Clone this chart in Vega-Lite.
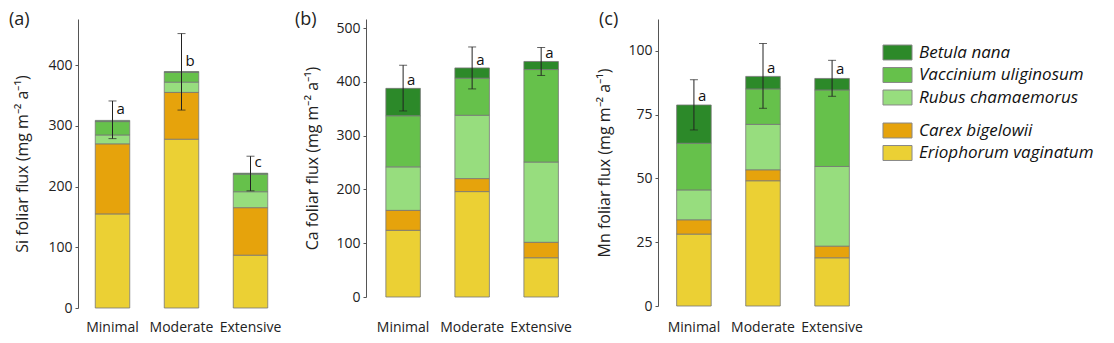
{
  "$schema": "https://vega.github.io/schema/vega-lite/v6.json",
  "padding": {"left": 8, "top": 11, "right": 0, "bottom": 0},
  "background": "white",
  "config": {
    "font": "Open Sans",
    "view": {"stroke": null},
    "axis": {"grid": false, "labelFontSize": 14, "labelColor": "#222", "titleFontSize": 16, "titleFontWeight": "normal", "titleColor": "#222", "domainColor": "#555", "tickColor": "#555", "labelFont": "Open Sans", "titleFont": "Open Sans"},
    "axisY": {"tickSize": 3, "labelPadding": 3, "titlePadding": 15},
    "axisX": {"domain": false, "ticks": false, "labelAngle": 0, "title": null},
    "legend": {"orient": "right", "labelFont": "Open Sans", "labelFontStyle": "italic", "labelFontSize": 17, "labelColor": "#111", "labelLimit": 400, "symbolType": "M-1.32,-0.68H1.32V0.68H-1.32Z", "symbolSize": 484, "symbolStrokeColor": "#888", "symbolStrokeWidth": 1, "symbolOpacity": 1, "rowPadding": 1.5, "labelOffset": 10, "offset": 18},
    "title": {"fontSize": 18, "fontWeight": "normal", "color": "#222", "font": "Open Sans", "anchor": "start", "frame": "bounds"}
  },
  "datasets": {
    "bars": [
      {"element": "Si", "treatment": "Minimal", "species": "Eriophorum vaginatum", "group": "sedge", "rank": 1, "value": 155},
      {"element": "Si", "treatment": "Minimal", "species": "Carex bigelowii", "group": "sedge", "rank": 2, "value": 115},
      {"element": "Si", "treatment": "Minimal", "species": "Rubus chamaemorus", "group": "shrub", "rank": 3, "value": 15},
      {"element": "Si", "treatment": "Minimal", "species": "Vaccinium uliginosum", "group": "shrub", "rank": 4, "value": 22},
      {"element": "Si", "treatment": "Minimal", "species": "Betula nana", "group": "shrub", "rank": 5, "value": 2},
      {"element": "Si", "treatment": "Moderate", "species": "Eriophorum vaginatum", "group": "sedge", "rank": 1, "value": 278},
      {"element": "Si", "treatment": "Moderate", "species": "Carex bigelowii", "group": "sedge", "rank": 2, "value": 77},
      {"element": "Si", "treatment": "Moderate", "species": "Rubus chamaemorus", "group": "shrub", "rank": 3, "value": 17},
      {"element": "Si", "treatment": "Moderate", "species": "Vaccinium uliginosum", "group": "shrub", "rank": 4, "value": 16},
      {"element": "Si", "treatment": "Moderate", "species": "Betula nana", "group": "shrub", "rank": 5, "value": 1.5},
      {"element": "Si", "treatment": "Extensive", "species": "Eriophorum vaginatum", "group": "sedge", "rank": 1, "value": 87},
      {"element": "Si", "treatment": "Extensive", "species": "Carex bigelowii", "group": "sedge", "rank": 2, "value": 78},
      {"element": "Si", "treatment": "Extensive", "species": "Rubus chamaemorus", "group": "shrub", "rank": 3, "value": 26.5},
      {"element": "Si", "treatment": "Extensive", "species": "Vaccinium uliginosum", "group": "shrub", "rank": 4, "value": 29},
      {"element": "Si", "treatment": "Extensive", "species": "Betula nana", "group": "shrub", "rank": 5, "value": 1.5},
      {"element": "Ca", "treatment": "Minimal", "species": "Eriophorum vaginatum", "group": "sedge", "rank": 1, "value": 124},
      {"element": "Ca", "treatment": "Minimal", "species": "Carex bigelowii", "group": "sedge", "rank": 2, "value": 37},
      {"element": "Ca", "treatment": "Minimal", "species": "Rubus chamaemorus", "group": "shrub", "rank": 3, "value": 81},
      {"element": "Ca", "treatment": "Minimal", "species": "Vaccinium uliginosum", "group": "shrub", "rank": 4, "value": 95},
      {"element": "Ca", "treatment": "Minimal", "species": "Betula nana", "group": "shrub", "rank": 5, "value": 51},
      {"element": "Ca", "treatment": "Moderate", "species": "Eriophorum vaginatum", "group": "sedge", "rank": 1, "value": 196},
      {"element": "Ca", "treatment": "Moderate", "species": "Carex bigelowii", "group": "sedge", "rank": 2, "value": 24},
      {"element": "Ca", "treatment": "Moderate", "species": "Rubus chamaemorus", "group": "shrub", "rank": 3, "value": 118},
      {"element": "Ca", "treatment": "Moderate", "species": "Vaccinium uliginosum", "group": "shrub", "rank": 4, "value": 69},
      {"element": "Ca", "treatment": "Moderate", "species": "Betula nana", "group": "shrub", "rank": 5, "value": 19},
      {"element": "Ca", "treatment": "Extensive", "species": "Eriophorum vaginatum", "group": "sedge", "rank": 1, "value": 73},
      {"element": "Ca", "treatment": "Extensive", "species": "Carex bigelowii", "group": "sedge", "rank": 2, "value": 28.5},
      {"element": "Ca", "treatment": "Extensive", "species": "Rubus chamaemorus", "group": "shrub", "rank": 3, "value": 149.5},
      {"element": "Ca", "treatment": "Extensive", "species": "Vaccinium uliginosum", "group": "shrub", "rank": 4, "value": 172},
      {"element": "Ca", "treatment": "Extensive", "species": "Betula nana", "group": "shrub", "rank": 5, "value": 15},
      {"element": "Mn", "treatment": "Minimal", "species": "Eriophorum vaginatum", "group": "sedge", "rank": 1, "value": 28.2},
      {"element": "Mn", "treatment": "Minimal", "species": "Carex bigelowii", "group": "sedge", "rank": 2, "value": 5.5},
      {"element": "Mn", "treatment": "Minimal", "species": "Rubus chamaemorus", "group": "shrub", "rank": 3, "value": 11.8},
      {"element": "Mn", "treatment": "Minimal", "species": "Vaccinium uliginosum", "group": "shrub", "rank": 4, "value": 18.3},
      {"element": "Mn", "treatment": "Minimal", "species": "Betula nana", "group": "shrub", "rank": 5, "value": 15},
      {"element": "Mn", "treatment": "Moderate", "species": "Eriophorum vaginatum", "group": "sedge", "rank": 1, "value": 49.1},
      {"element": "Mn", "treatment": "Moderate", "species": "Carex bigelowii", "group": "sedge", "rank": 2, "value": 4.2},
      {"element": "Mn", "treatment": "Moderate", "species": "Rubus chamaemorus", "group": "shrub", "rank": 3, "value": 17.9},
      {"element": "Mn", "treatment": "Moderate", "species": "Vaccinium uliginosum", "group": "shrub", "rank": 4, "value": 13.9},
      {"element": "Mn", "treatment": "Moderate", "species": "Betula nana", "group": "shrub", "rank": 5, "value": 4.9},
      {"element": "Mn", "treatment": "Extensive", "species": "Eriophorum vaginatum", "group": "sedge", "rank": 1, "value": 18.9},
      {"element": "Mn", "treatment": "Extensive", "species": "Carex bigelowii", "group": "sedge", "rank": 2, "value": 4.5},
      {"element": "Mn", "treatment": "Extensive", "species": "Rubus chamaemorus", "group": "shrub", "rank": 3, "value": 31.3},
      {"element": "Mn", "treatment": "Extensive", "species": "Vaccinium uliginosum", "group": "shrub", "rank": 4, "value": 30},
      {"element": "Mn", "treatment": "Extensive", "species": "Betula nana", "group": "shrub", "rank": 5, "value": 4.5}
    ],
    "errs": [
      {"element": "Si", "treatment": "Minimal", "lo": 279, "hi": 341, "letter": "a", "label_at": 319},
      {"element": "Si", "treatment": "Moderate", "lo": 326, "hi": 452, "letter": "b", "label_at": 398},
      {"element": "Si", "treatment": "Extensive", "lo": 193, "hi": 250, "letter": "c", "label_at": 232},
      {"element": "Ca", "treatment": "Minimal", "lo": 346, "hi": 431, "letter": "a", "label_at": 395},
      {"element": "Ca", "treatment": "Moderate", "lo": 387, "hi": 465, "letter": "a", "label_at": 432},
      {"element": "Ca", "treatment": "Extensive", "lo": 412, "hi": 464, "letter": "a", "label_at": 445},
      {"element": "Mn", "treatment": "Minimal", "lo": 69, "hi": 88.7, "letter": "a", "label_at": 80.5},
      {"element": "Mn", "treatment": "Moderate", "lo": 77.5, "hi": 102.9, "letter": "a", "label_at": 91.5},
      {"element": "Mn", "treatment": "Extensive", "lo": 82.2, "hi": 96.3, "letter": "a", "label_at": 91}
    ]
  },
  "spacing": 9,
  "resolve": {"scale": {"color": "shared", "fill": "shared"}},
  "hconcat": [
    {
      "title": {"text": "(a)", "dx": -6, "offset": -10},
      "width": 207, "height": 289,
      "layer": [
        {
          "data": {"name": "bars"},
          "transform": [{"filter": "datum.element === 'Si'"}, {"stack": "value", "groupby": ["treatment"], "sort": [{"field": "rank", "order": "ascending"}], "as": ["v0", "v1"]}, {"filter": "datum.group === 'shrub'"}],
          "mark": {"type": "bar", "stroke": "#777", "strokeWidth": 0.8},
          "encoding": {
            "x": {"field": "treatment", "type": "nominal", "sort": ["Minimal", "Moderate", "Extensive"], "scale": {"paddingInner": 0.5, "paddingOuter": 0.25}, "axis": {"labelPadding": 12}},
            "y": {"field": "v0", "type": "quantitative", "title": "Si foliar flux (mg m⁻² a⁻¹)", "scale": {"domain": [0, 476], "nice": false}, "axis": {"titlePadding": 17, "values": [0, 50, 100, 150, 200, 250, 300, 350, 400, 450], "labelExpr": "datum.value % 100 === 0 ? datum.label : ''"}},
            "y2": {"field": "v1"},
            "color": {"field": "species", "type": "nominal", "scale": {"domain": ["Betula nana", "Vaccinium uliginosum", "Rubus chamaemorus"], "range": ["#2c8929", "#66c14b", "#97dd7e"]}, "legend": {"title": " ", "titleFontSize": 10, "titlePadding": 12}}
          }
        },
        {
          "data": {"name": "bars"},
          "transform": [{"filter": "datum.element === 'Si'"}, {"stack": "value", "groupby": ["treatment"], "sort": [{"field": "rank", "order": "ascending"}], "as": ["v0", "v1"]}, {"filter": "datum.group === 'sedge'"}],
          "mark": {"type": "bar", "stroke": "#777", "strokeWidth": 0.8},
          "encoding": {
            "x": {"field": "treatment", "type": "nominal", "sort": ["Minimal", "Moderate", "Extensive"]},
            "y": {"field": "v0", "type": "quantitative", "title": "Si foliar flux (mg m⁻² a⁻¹)"},
            "y2": {"field": "v1"},
            "fill": {"field": "species", "type": "nominal", "scale": {"domain": ["Carex bigelowii", "Eriophorum vaginatum"], "range": ["#e6a30c", "#ebd034"]}, "legend": {"title": " ", "titleFontSize": 2, "titlePadding": 2}}
          }
        },
        {
          "data": {"name": "errs"},
          "transform": [{"filter": "datum.element === 'Si'"}],
          "mark": {"type": "errorbar", "ticks": {"size": 8, "color": "#222"}, "rule": {"color": "#222", "strokeWidth": 1}},
          "encoding": {
            "x": {"field": "treatment", "type": "nominal", "sort": ["Minimal", "Moderate", "Extensive"]},
            "y": {"field": "lo", "type": "quantitative", "title": "Si foliar flux (mg m⁻² a⁻¹)"},
            "y2": {"field": "hi"}
          }
        },
        {
          "data": {"name": "errs"},
          "transform": [{"filter": "datum.element === 'Si'"}],
          "mark": {"type": "text", "align": "left", "baseline": "alphabetic", "dx": 4, "fontSize": 15, "color": "#111"},
          "encoding": {
            "x": {"field": "treatment", "type": "nominal", "sort": ["Minimal", "Moderate", "Extensive"]},
            "y": {"field": "label_at", "type": "quantitative", "title": "Si foliar flux (mg m⁻² a⁻¹)"},
            "text": {"field": "letter"}
          }
        }
      ]
    },
    {
      "title": {"text": "(b)", "dx": -10, "offset": -10},
      "width": 221, "height": 278,
      "layer": [
        {
          "data": {"name": "bars"},
          "transform": [{"filter": "datum.element === 'Ca'"}, {"stack": "value", "groupby": ["treatment"], "sort": [{"field": "rank", "order": "ascending"}], "as": ["v0", "v1"]}, {"filter": "datum.group === 'shrub'"}],
          "mark": {"type": "bar", "stroke": "#777", "strokeWidth": 0.8},
          "encoding": {
            "x": {"field": "treatment", "type": "nominal", "sort": ["Minimal", "Moderate", "Extensive"], "scale": {"paddingInner": 0.5, "paddingOuter": 0.351, "align": 0.41}, "axis": {"labelPadding": 23}},
            "y": {"field": "v0", "type": "quantitative", "title": "Ca foliar flux (mg m⁻² a⁻¹)", "scale": {"domain": [0, 517], "nice": false}, "axis": {"values": [0, 50, 100, 150, 200, 250, 300, 350, 400, 450, 500], "labelExpr": "datum.value % 100 === 0 ? datum.label : ''"}},
            "y2": {"field": "v1"},
            "color": {"field": "species", "type": "nominal", "scale": {"domain": ["Betula nana", "Vaccinium uliginosum", "Rubus chamaemorus"], "range": ["#2c8929", "#66c14b", "#97dd7e"]}, "legend": {"title": " ", "titleFontSize": 10, "titlePadding": 12}}
          }
        },
        {
          "data": {"name": "bars"},
          "transform": [{"filter": "datum.element === 'Ca'"}, {"stack": "value", "groupby": ["treatment"], "sort": [{"field": "rank", "order": "ascending"}], "as": ["v0", "v1"]}, {"filter": "datum.group === 'sedge'"}],
          "mark": {"type": "bar", "stroke": "#777", "strokeWidth": 0.8},
          "encoding": {
            "x": {"field": "treatment", "type": "nominal", "sort": ["Minimal", "Moderate", "Extensive"]},
            "y": {"field": "v0", "type": "quantitative", "title": "Ca foliar flux (mg m⁻² a⁻¹)"},
            "y2": {"field": "v1"},
            "fill": {"field": "species", "type": "nominal", "scale": {"domain": ["Carex bigelowii", "Eriophorum vaginatum"], "range": ["#e6a30c", "#ebd034"]}, "legend": {"title": " ", "titleFontSize": 2, "titlePadding": 2}}
          }
        },
        {
          "data": {"name": "errs"},
          "transform": [{"filter": "datum.element === 'Ca'"}],
          "mark": {"type": "errorbar", "ticks": {"size": 8, "color": "#222"}, "rule": {"color": "#222", "strokeWidth": 1}},
          "encoding": {
            "x": {"field": "treatment", "type": "nominal", "sort": ["Minimal", "Moderate", "Extensive"]},
            "y": {"field": "lo", "type": "quantitative", "title": "Ca foliar flux (mg m⁻² a⁻¹)"},
            "y2": {"field": "hi"}
          }
        },
        {
          "data": {"name": "errs"},
          "transform": [{"filter": "datum.element === 'Ca'"}],
          "mark": {"type": "text", "align": "left", "baseline": "alphabetic", "dx": 4, "fontSize": 15, "color": "#111"},
          "encoding": {
            "x": {"field": "treatment", "type": "nominal", "sort": ["Minimal", "Moderate", "Extensive"]},
            "y": {"field": "label_at", "type": "quantitative", "title": "Ca foliar flux (mg m⁻² a⁻¹)"},
            "text": {"field": "letter"}
          }
        }
      ]
    },
    {
      "title": {"text": "(c)", "dx": 2, "offset": -10},
      "width": 210, "height": 287,
      "layer": [
        {
          "data": {"name": "bars"},
          "transform": [{"filter": "datum.element === 'Mn'"}, {"stack": "value", "groupby": ["treatment"], "sort": [{"field": "rank", "order": "ascending"}], "as": ["v0", "v1"]}, {"filter": "datum.group === 'shrub'"}],
          "mark": {"type": "bar", "stroke": "#777", "strokeWidth": 0.8},
          "encoding": {
            "x": {"field": "treatment", "type": "nominal", "sort": ["Minimal", "Moderate", "Extensive"], "scale": {"paddingInner": 0.5, "paddingOuter": 0.27}, "axis": {"labelPadding": 14}},
            "y": {"field": "v0", "type": "quantitative", "title": "Mn foliar flux (mg m⁻² a⁻¹)", "scale": {"domain": [0, 112.5], "nice": false}, "axis": {"values": [0, 12.5, 25, 37.5, 50, 62.5, 75, 87.5, 100], "labelExpr": "datum.value % 25 === 0 ? datum.label : ''"}},
            "y2": {"field": "v1"},
            "color": {"field": "species", "type": "nominal", "scale": {"domain": ["Betula nana", "Vaccinium uliginosum", "Rubus chamaemorus"], "range": ["#2c8929", "#66c14b", "#97dd7e"]}, "legend": {"title": " ", "titleFontSize": 10, "titlePadding": 12}}
          }
        },
        {
          "data": {"name": "bars"},
          "transform": [{"filter": "datum.element === 'Mn'"}, {"stack": "value", "groupby": ["treatment"], "sort": [{"field": "rank", "order": "ascending"}], "as": ["v0", "v1"]}, {"filter": "datum.group === 'sedge'"}],
          "mark": {"type": "bar", "stroke": "#777", "strokeWidth": 0.8},
          "encoding": {
            "x": {"field": "treatment", "type": "nominal", "sort": ["Minimal", "Moderate", "Extensive"]},
            "y": {"field": "v0", "type": "quantitative", "title": "Mn foliar flux (mg m⁻² a⁻¹)"},
            "y2": {"field": "v1"},
            "fill": {"field": "species", "type": "nominal", "scale": {"domain": ["Carex bigelowii", "Eriophorum vaginatum"], "range": ["#e6a30c", "#ebd034"]}, "legend": {"title": " ", "titleFontSize": 2, "titlePadding": 2}}
          }
        },
        {
          "data": {"name": "errs"},
          "transform": [{"filter": "datum.element === 'Mn'"}],
          "mark": {"type": "errorbar", "ticks": {"size": 8, "color": "#222"}, "rule": {"color": "#222", "strokeWidth": 1}},
          "encoding": {
            "x": {"field": "treatment", "type": "nominal", "sort": ["Minimal", "Moderate", "Extensive"]},
            "y": {"field": "lo", "type": "quantitative", "title": "Mn foliar flux (mg m⁻² a⁻¹)"},
            "y2": {"field": "hi"}
          }
        },
        {
          "data": {"name": "errs"},
          "transform": [{"filter": "datum.element === 'Mn'"}],
          "mark": {"type": "text", "align": "left", "baseline": "alphabetic", "dx": 4, "fontSize": 15, "color": "#111"},
          "encoding": {
            "x": {"field": "treatment", "type": "nominal", "sort": ["Minimal", "Moderate", "Extensive"]},
            "y": {"field": "label_at", "type": "quantitative", "title": "Mn foliar flux (mg m⁻² a⁻¹)"},
            "text": {"field": "letter"}
          }
        }
      ]
    }
  ]
}
